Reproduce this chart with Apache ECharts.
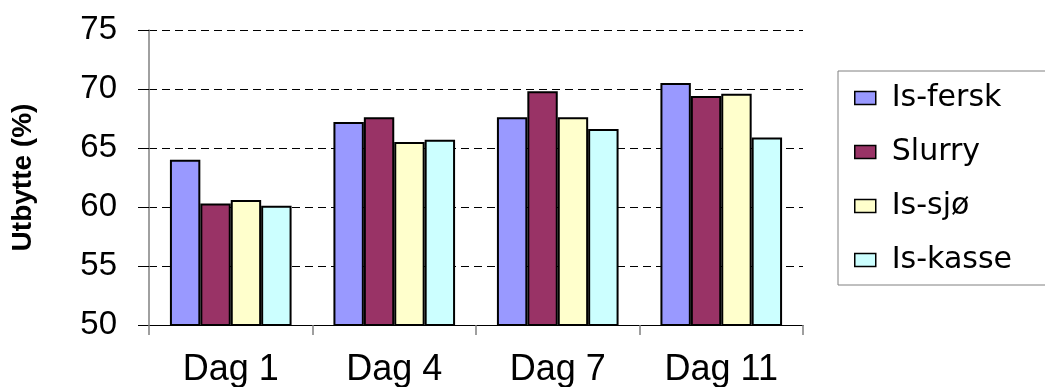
<!DOCTYPE html>
<html>
<head>
<meta charset="utf-8">
<title>Utbytte</title>
<script src="https://cdn.jsdelivr.net/npm/echarts@6/dist/echarts.min.js"></script>
<style>
  html, body { margin: 0; padding: 0; background: #ffffff; }
  #chart { width: 1045px; height: 387px; }
</style>
</head>
<body>
<div id="chart"></div>
<script>
// Sampling days
const days = ['Dag 1', 'Dag 4', 'Dag 7', 'Dag 11'];

// Yield (%) per storage method
const isFersk = [64.0, 67.2, 67.6, 70.5];
const slurry = [60.3, 67.6, 69.8, 69.4];
const isSjo = [60.6, 65.5, 67.6, 69.6];
const isKasse = [60.1, 65.7, 66.6, 65.9];

const seriesNames = ['Is-fersk', 'Slurry', 'Is-sjø', 'Is-kasse'];
const seriesColors = ['#9999FF', '#993366', '#FFFFCC', '#CCFFFF'];
const seriesValues = [isFersk, slurry, isSjo, isKasse];

const yMin = 50, yMax = 75, yStep = 5;

const chart = echarts.init(document.getElementById('chart'), null, { renderer: 'canvas' });

const series = seriesNames.map((name, i) => ({
  name: name,
  type: 'bar',
  data: seriesValues[i],
  barGap: '0%',
  barCategoryGap: '25.6%',
  itemStyle: {
    color: seriesColors[i],
    borderColor: '#000000',
    borderWidth: 2
  },
  emphasis: { disabled: true }
}));

chart.setOption({
  animation: false,
  backgroundColor: '#ffffff',
  grid: {
    left: 149, right: 242, top: 30, bottom: 62,
    containLabel: false,
    outerBoundsMode: 'none'
  },
  legend: {
    orient: 'vertical',
    left: 838,
    top: 71,
    data: seriesNames,
    icon: 'rect',
    itemWidth: 21,
    itemHeight: 13,
    itemGap: 24,
    padding: [12, 60, 10, 16],
    borderColor: '#808080',
    borderWidth: 1,
    itemStyle: { borderColor: '#000000', borderWidth: 1.5 },
    textStyle: {
      fontFamily: 'DejaVu Sans',
      fontSize: 30,
      color: '#000000',
      padding: [0, 0, 0, 11]
    },
    selectedMode: false
  },
  xAxis: {
    type: 'category',
    data: days,
    axisLine: { show: true, lineStyle: { color: '#000000', width: 1.2 } },
    axisTick: { show: true, length: 10, lineStyle: { color: '#808080', width: 1.5 } },
    axisLabel: {
      margin: 27,
      fontFamily: 'Liberation Sans',
      fontSize: 36,
      color: '#000000'
    },
    splitLine: { show: false }
  },
  yAxis: {
    type: 'value',
    min: yMin,
    max: yMax,
    interval: yStep,
    name: 'Utbytte (%)',
    nameLocation: 'middle',
    nameGap: 112,
    nameTextStyle: {
      fontFamily: 'Liberation Sans',
      fontWeight: 'bold',
      fontSize: 28,
      color: '#000000'
    },
    axisLine: { show: true, lineStyle: { color: '#808080', width: 1.5 } },
    axisTick: { show: true, length: 11, lineStyle: { color: '#000000', width: 1 } },
    axisLabel: {
      margin: 32,
      fontFamily: 'Liberation Sans',
      fontSize: 33,
      color: '#000000'
    },
    splitLine: {
      show: true,
      lineStyle: { color: '#000000', width: 1, type: [8, 5] }
    }
  },
  series: series
});
</script>
</body>
</html>
